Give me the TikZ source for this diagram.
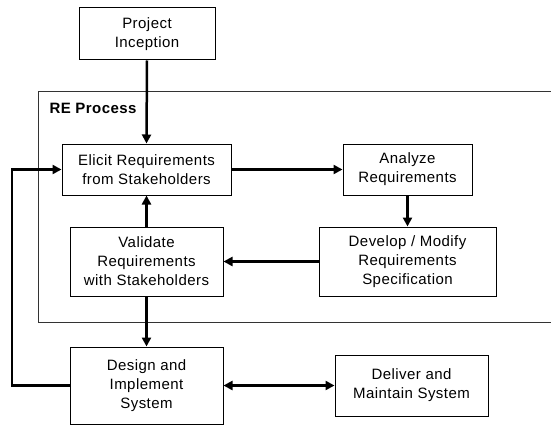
\documentclass[tikz,border=0pt]{standalone}
\usepackage{fontspec}
\setmainfont[LetterSpace=3]{Liberation Sans}
\usetikzlibrary{arrows.meta}
\begin{document}
\begin{tikzpicture}[x=1pt,y=-1pt,
  box/.style={draw=black,line width=1pt,fill=white,align=center,inner sep=0pt,
    font=\fontsize{15}{19}\selectfont},
  arr/.style={line width=2.5pt,-{Triangle[length=9pt,width=9pt]}},
  dblarr/.style={line width=2.5pt,{Triangle[length=9pt,width=9pt]}-{Triangle[length=9pt,width=9pt]}},
  frame/.style={draw=black!80,line width=1pt}]
\useasboundingbox (0,0) rectangle (551,425);
% RE Process frame (open to the right)
\draw[frame] (556,92) -- (38,92) -- (38,322) -- (556,322);
\node[anchor=west,font=\fontsize{15}{19}\selectfont\bfseries] (relabel) at (46,108) {RE Process};
% boxes
\node[box,minimum width=136pt,minimum height=52pt] (proj) at (147,34) {Project\\Inception};
\node[box,minimum width=169pt,minimum height=51pt] (elicit) at (146.5,169.5) {Elicit Requirements\\from Stakeholders};
\node[box,minimum width=129pt,minimum height=51pt] (analyze) at (407.5,169.5) {Analyze\\Requirements};
\node[box,minimum width=177pt,minimum height=69pt] (develop) at (407.5,261.5) {Develop / Modify\\Requirements\\Specification};
\node[box,minimum width=153pt,minimum height=69pt] (validate) at (146.5,261.5) {Validate\\Requirements\\with Stakeholders};
\node[box,minimum width=153pt,minimum height=77pt] (design) at (146.5,385.5) {Design and\\Implement\\System};
\node[box,minimum width=153pt,minimum height=61pt] (deliver) at (411.5,385.5) {Deliver and\\Maintain System};
\coordinate (loop) at (12,0);
% connectors
\draw[arr] (proj.south) -- (elicit.north);
\draw[arr] (elicit.east) -- (analyze.west);
\draw[arr] (analyze.south) -- (develop.north);
\draw[arr] (develop.west) -- (validate.east);
\draw[arr] (validate.north) -- (elicit.south);
\draw[arr] (validate.south) -- (design.north);
\draw[dblarr] (design.east) -- (deliver.west);
\draw[arr] (design.west) -- (design.west -| loop) -- (elicit.west -| loop) -- (elicit.west);
\end{tikzpicture}
\end{document}
